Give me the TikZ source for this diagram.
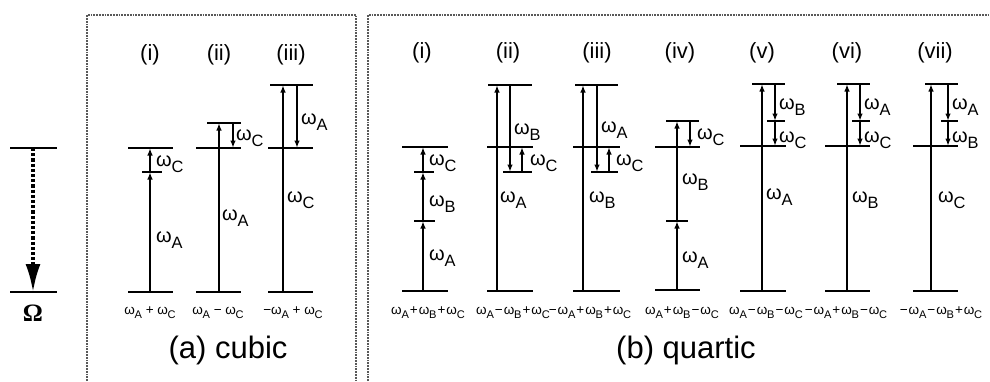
\documentclass[tikz,border=0pt]{standalone}
\usepackage{fontspec}
\setmainfont{Liberation Sans}
\newfontfamily\seriffont{Liberation Serif}
\usetikzlibrary{arrows.meta}

\newcommand{\om}[1]{ω\kern-0.2pt\raisebox{-0.3em}{\scalebox{0.82}{#1}}}

\tikzset{
  level/.style={line width=2.6pt},
  tick/.style={line width=1.3pt},
  trans/.style={line width=1.8pt,-{Latex[length=7.5pt,width=5.5pt]}},
  lab/.style={anchor=west,inner sep=0pt,font=\fontsize{20}{20}\selectfont},
  head/.style={inner sep=0pt,font=\fontsize{22}{22}\selectfont},
  sumlab/.style={inner sep=0pt,font=\fontsize{13.5}{13.5}\selectfont},
  title/.style={inner sep=0pt,font=\fontsize{31}{31}\selectfont},
  frame/.style={densely dotted,line width=1.8pt,black!65}
}

\begin{document}
\begin{tikzpicture}[x=1pt,y=-1pt]
\useasboundingbox (0,0) rectangle (990,381);
% frames
\draw[frame] (87,381) -- (87,15) -- (356,15) -- (356,381);
\draw[frame] (368,381) -- (368,15) -- (990,15);

% the Omega transition
\coordinate (Ot) at (33,148);
\coordinate (Ob) at (33,292);
\draw[level] (10,148) -- (57,148);
\draw[level] (10,292) -- (57,292);
\draw[line width=3.2pt,dotted,-{Latex[length=28pt,width=15pt]}] (Ot) -- (Ob);
\node[head] (Om) at (33,313) {\fontsize{25}{25}\selectfont\seriffont\bfseries Ω};

% ---------- (a) cubic ----------
\node[head] (ahi)   at (150,55) {(i)};
\node[head] (ahii)  at (219,55) {(ii)};
\node[head] (ahiii) at (291,55) {(iii)};

% (i)
\coordinate (a1g) at (150,292);
\coordinate (a1t) at (150,172);
\coordinate (a1m) at (150,148);
\draw[level] (128,292) -- (173,292);
\draw[level] (128,148) -- (173,148);
\draw[tick]  (142,172) -- (162,172);
\draw[trans] (a1g) -- (a1t);
\draw[trans] (a1t) -- (a1m);
\node[lab] (a1C) at (156,164) {\om{C}};
\node[lab] (a1A) at (156,240) {\om{A}};

% (ii)
\coordinate (a2g) at (219,292);
\coordinate (a2u) at (219,123);
\coordinate (a2ud) at (233,123);
\coordinate (a2md) at (233,148);
\draw[level] (196,292) -- (241,292);
\draw[level] (196,148) -- (241,148);
\draw[level] (207,123) -- (241,123);
\draw[trans] (a2g) -- (a2u);
\draw[trans] (a2ud) -- (a2md);
\node[lab] (a2C) at (236,138) {\om{C}};
\node[lab] (a2A) at (222,218) {\om{A}};

% (iii)
\coordinate (a3g) at (283,292);
\coordinate (a3u) at (283,85);
\coordinate (a3ud) at (297,85);
\coordinate (a3md) at (297,148);
\draw[level] (268,292) -- (313,292);
\draw[level] (268,148) -- (313,148);
\draw[level] (270,85) -- (313,85);
\draw[trans] (a3g) -- (a3u);
\draw[trans] (a3ud) -- (a3md);
\node[lab] (a3A) at (301,122) {\om{A}};
\node[lab] (a3C) at (287,200) {\om{C}};

\node[sumlab] (as1) at (150,313) {\om{A} + \om{C}};
\node[sumlab] (as2) at (218,313) {\om{A} − \om{C}};
\node[sumlab] (as3) at (293,313) {−\om{A} + \om{C}};
\node[title] (atitle) at (228,350) {(a) cubic};

% ---------- (b) quartic ----------
\node[head] (bhi)   at (422,53) {(i)};
\node[head] (bhii)  at (508,53) {(ii)};
\node[head] (bhiii) at (597,53) {(iii)};
\node[head] (bhiv)  at (680,53) {(iv)};
\node[head] (bhv)   at (762,53) {(v)};
\node[head] (bhvi)  at (847,53) {(vi)};
\node[head] (bhvii) at (935,53) {(vii)};

% (i)
\coordinate (b1g) at (423,291);
\coordinate (b1t) at (423,221);
\coordinate (b1s) at (423,172);
\coordinate (b1m) at (423,147);
\draw[level] (402,291) -- (448,291);
\draw[level] (402,147) -- (448,147);
\draw[tick]  (414,172) -- (434,172);
\draw[tick]  (414,221) -- (435,221);
\draw[trans] (b1g) -- (b1t);
\draw[trans] (b1t) -- (b1s);
\draw[trans] (b1s) -- (b1m);
\node[lab] (b1C) at (429,163) {\om{C}};
\node[lab] (b1B) at (429,204) {\om{B}};
\node[lab] (b1A) at (429,258) {\om{A}};

% (ii)
\coordinate (b2g) at (497,291);
\coordinate (b2u) at (497,85);
\coordinate (b2ud) at (510,85);
\coordinate (b2sd) at (510,172);
\coordinate (b2su) at (522,172);
\coordinate (b2mu) at (522,147);
\draw[level] (487,291) -- (533,291);
\draw[level] (487,147) -- (533,147);
\draw[level] (488,85) -- (532,85);
\draw[tick]  (503,172) -- (532,172);
\draw[trans] (b2g) -- (b2u);
\draw[trans] (b2ud) -- (b2sd);
\draw[trans] (b2su) -- (b2mu);
\node[lab] (b2B) at (514,132) {\om{B}};
\node[lab] (b2C) at (530,163) {\om{C}};
\node[lab] (b2A) at (500,200) {\om{A}};

% (iii)
\coordinate (b3g) at (583,291);
\coordinate (b3u) at (583,85);
\coordinate (b3ud) at (597,85);
\coordinate (b3sd) at (597,172);
\coordinate (b3su) at (609,172);
\coordinate (b3mu) at (609,147);
\draw[level] (573,291) -- (620,291);
\draw[level] (573,147) -- (620,147);
\draw[level] (575,85) -- (618,85);
\draw[tick]  (591,172) -- (618,172);
\draw[trans] (b3g) -- (b3u);
\draw[trans] (b3ud) -- (b3sd);
\draw[trans] (b3su) -- (b3mu);
\node[lab] (b3A) at (601,130) {\om{A}};
\node[lab] (b3C) at (616,163) {\om{C}};
\node[lab] (b3B) at (589,200) {\om{B}};

% (iv)
\coordinate (b4g) at (677,290);
\coordinate (b4t) at (677,221);
\coordinate (b4u) at (677,121);
\coordinate (b4ud) at (690,121);
\coordinate (b4md) at (690,147);
\draw[level] (655,290) -- (700,290);
\draw[level] (655,147) -- (700,147);
\draw[level] (666,121) -- (699,121);
\draw[tick]  (666,221) -- (688,221);
\draw[trans] (b4g) -- (b4t);
\draw[trans] (b4t) -- (b4u);
\draw[trans] (b4ud) -- (b4md);
\node[lab] (b4C) at (697,137) {\om{C}};
\node[lab] (b4B) at (682,182) {\om{B}};
\node[lab] (b4A) at (682,260) {\om{A}};

% (v)
\coordinate (b5g) at (762,291);
\coordinate (b5u) at (762,84);
\coordinate (b5ud) at (775,84);
\coordinate (b5td) at (775,121);
\coordinate (b5md) at (775,146);
\draw[level] (740,291) -- (786,291);
\draw[level] (740,146) -- (786,146);
\draw[level] (752,84) -- (785,84);
\draw[tick]  (767,121) -- (785,121);
\draw[trans] (b5g) -- (b5u);
\draw[trans] (b5ud) -- (b5td);
\draw[trans] (b5td) -- (b5md);
\node[lab] (b5B) at (779,107) {\om{B}};
\node[lab] (b5C) at (779,140) {\om{C}};
\node[lab] (b5A) at (766,197) {\om{A}};

% (vi)
\coordinate (b6g) at (847,291);
\coordinate (b6u) at (847,84);
\coordinate (b6ud) at (860,84);
\coordinate (b6td) at (860,121);
\coordinate (b6md) at (860,146);
\draw[level] (825,291) -- (870,291);
\draw[level] (825,146) -- (870,146);
\draw[level] (837,84) -- (870,84);
\draw[tick]  (852,121) -- (870,121);
\draw[trans] (b6g) -- (b6u);
\draw[trans] (b6ud) -- (b6td);
\draw[trans] (b6td) -- (b6md);
\node[lab] (b6A) at (864,107) {\om{A}};
\node[lab] (b6C) at (864,140) {\om{C}};
\node[lab] (b6B) at (852,200) {\om{B}};

% (vii)
\coordinate (b7g) at (931,291);
\coordinate (b7u) at (931,84);
\coordinate (b7ud) at (948,84);
\coordinate (b7td) at (948,121);
\coordinate (b7md) at (948,146);
\draw[level] (913,291) -- (958,291);
\draw[level] (913,146) -- (958,146);
\draw[level] (925,84) -- (958,84);
\draw[tick]  (941,121) -- (958,121);
\draw[trans] (b7g) -- (b7u);
\draw[trans] (b7ud) -- (b7td);
\draw[trans] (b7td) -- (b7md);
\node[lab] (b7A) at (952,107) {\om{A}};
\node[lab] (b7B) at (952,140) {\om{B}};
\node[lab] (b7C) at (938,200) {\om{C}};

\node[sumlab] (bs1) at (428,313) {\om{A}\kern1pt+\kern1pt\om{B}\kern1pt+\kern1pt\om{C}};
\node[sumlab] (bs2) at (513,313) {\om{A}\kern1pt−\kern1pt\om{B}\kern1pt+\kern1pt\om{C}};
\node[sumlab] (bs3) at (590,313) {−\kern1pt\om{A}\kern1pt+\kern1pt\om{B}\kern1pt+\kern1pt\om{C}};
\node[sumlab] (bs4) at (682,313) {\om{A}\kern1pt+\kern1pt\om{B}\kern1pt−\kern1pt\om{C}};
\node[sumlab] (bs5) at (766,313) {\om{A}\kern1pt−\kern1pt\om{B}\kern1pt−\kern1pt\om{C}};
\node[sumlab] (bs6) at (846,313) {−\kern1pt\om{A}\kern1pt+\kern1pt\om{B}\kern1pt−\kern1pt\om{C}};
\node[sumlab] (bs7) at (941,313) {−\kern1pt\om{A}\kern1pt−\kern1pt\om{B}\kern1pt+\kern1pt\om{C}};
\node[title] (btitle) at (686,350) {(b) quartic};
\end{tikzpicture}
\end{document}
